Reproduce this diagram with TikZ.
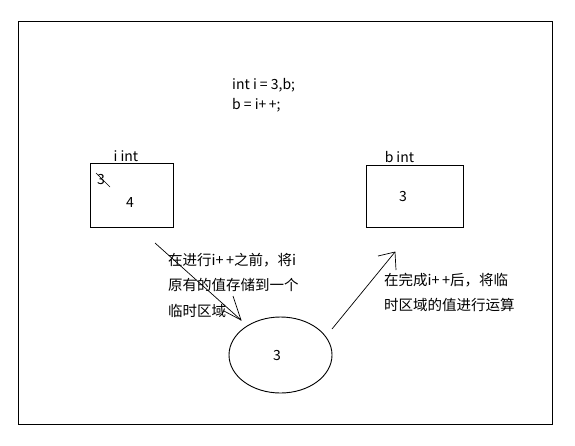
\documentclass[tikz,border=0pt]{standalone}
\usepackage{fontspec}
\newfontfamily\cjk{Noto Sans CJK SC}
\usetikzlibrary{shapes.geometric}
\tikzset{
  ln/.style={draw=black, line width=0.9pt},
  boxnode/.style={draw=black, line width=0.9pt, rectangle, inner sep=0pt},
  txt/.style={inner sep=0pt, font=\cjk\fontsize{14}{16}\selectfont},
  cjktxt/.style={inner sep=0pt, anchor=base west, font=\cjk\fontsize{14.5}{16}\selectfont},
  arr/.style={draw=black, line width=0.7pt},
}
\begin{document}
\begin{tikzpicture}[x=1pt,y=-1pt]
\useasboundingbox (0,0) rectangle (575,445);
\fill[white] (0,0) rectangle (575,445);
% outer frame
\draw[ln] (18,21) rectangle (552,424);
% code
\node[txt, anchor=base west] (code1) at (232,89) {int i = 3,b;};
\node[txt, anchor=base west] (code2) at (232,109) {b = i+\,+;};
% i box
\node[boxnode, minimum width=83pt, minimum height=64pt] (ibox) at (131.5,195) {};
\node[txt, anchor=base] (ilab) at (126,161) {i\hspace{3pt}int};
\node[txt] (iold) at (101,180) {3};
\coordinate (sa) at (96,173);
\coordinate (sb) at (110,187);
\draw[arr, line width=0.6pt] (sa) -- (sb);
\node[txt] (inew) at (130,203) {4};
% b box
\node[boxnode, minimum width=97pt, minimum height=62pt] (bbox) at (414.5,196) {};
\node[txt, anchor=base] (blab) at (399.5,162) {b\hspace{3pt}int};
\node[txt] (bval) at (403,197) {3};
% ellipse
\node[draw=black, line width=0.9pt, ellipse, minimum width=103pt, minimum height=76pt, inner sep=0pt] (tmp) at (280.5,355) {};
\node[txt] (tval) at (277,356) {3};
% left text
\node[cjktxt] (lt1) at (168,265) {在进行i+\,+之前，将i};
\node[cjktxt] (lt2) at (168,290) {原有的值存储到一个};
\node[cjktxt] (lt3) at (168,316) {临时区域};
% right text
\node[cjktxt] (rt1) at (384,285) {在完成i+\,+后，将临};
\node[cjktxt] (rt2) at (384,310) {时区域的值进行运算};
% left arrow (into temp area)
\coordinate (la) at (155,243);
\coordinate (lt) at (241,320);
\coordinate (lb1) at (233,296);
\coordinate (lb2) at (224,311);
\draw[arr] (la) -- (lt);
\draw[arr] (lb1) -- (lt) -- (lb2);
% right arrow (to b)
\coordinate (ra) at (332,329);
\coordinate (rtip) at (395,252);
\coordinate (rb1) at (378,256);
\coordinate (rb2) at (396,270);
\draw[arr] (ra) -- (rtip);
\draw[arr] (rb1) -- (rtip) -- (rb2);
\end{tikzpicture}
\end{document}
